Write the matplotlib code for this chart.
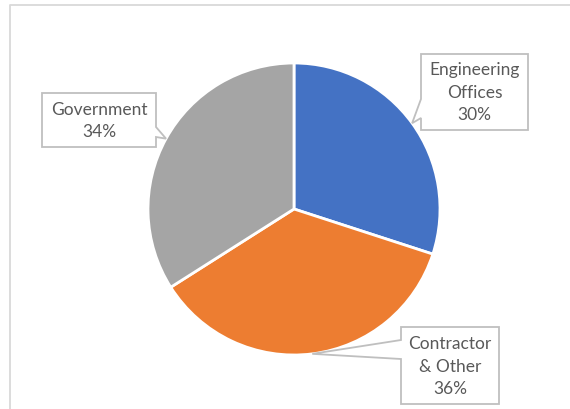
import numpy as np
import matplotlib
matplotlib.use("Agg")
import matplotlib.pyplot as plt
from matplotlib.patches import Polygon

# data
labels = ["Engineering\nOffices", "Contractor\n& Other", "Government"]
shares = [30, 36, 34]
colors = ["#4472C4", "#ED7D31", "#A5A5A5"]

W, H = 570, 409
fig = plt.figure(figsize=(W / 100, H / 100), dpi=100)
ax = fig.add_axes([0, 0, 1, 1])

# chart frame (only top and left visible in crop)
ax.plot([10, 10, W + 5], [-5, H - 5, H - 5], color="#D9D9D9", lw=1.3)

cx, cy, r = 294, H - 209, 146
wedges, _ = ax.pie(shares, colors=colors, startangle=90, counterclock=False,
                   center=(cx, cy), radius=r, frame=True,
                   wedgeprops=dict(edgecolor="white", linewidth=2.0))
ax.set_xlim(0, W)
ax.set_ylim(0, H)
ax.set_aspect("equal")
ax.axis("off")

# callout boxes: (x0, top, x1, bottom) in image pixels, side, pointer base
boxes = [
    dict(box=(421, 54, 528, 130), side="left", base=(99, 118)),
    dict(box=(401, 327, 499, 404), side="left", base=(340, 359)),
    dict(box=(42, 93, 156, 147), side="right", base=(127, 137)),
]

for w, lab, pct, b in zip(wedges, labels, shares, boxes):
    ang = np.deg2rad((w.theta1 + w.theta2) / 2)
    tx = cx + r * np.cos(ang)
    ty = cy + r * np.sin(ang)
    x0, t, x1, btm = b["box"]
    y_t, y_b = H - t, H - btm
    ba, bb = H - b["base"][0], H - b["base"][1]
    if b["side"] == "left":
        verts = [(x0, y_t), (x1, y_t), (x1, y_b), (x0, y_b),
                 (x0, bb), (tx, ty), (x0, ba)]
    else:
        verts = [(x0, y_t), (x1, y_t), (x1, ba), (tx, ty), (x1, bb),
                 (x1, y_b), (x0, y_b)]
    ax.add_patch(Polygon(verts, closed=True, facecolor="white",
                         edgecolor="#BFBFBF", lw=1.3, zorder=5))
    ax.text((x0 + x1) / 2, (y_t + y_b) / 2 - 1, f"{lab}\n{pct}%",
            ha="center", va="center", fontsize=12.5, color="#595959",
            family="Lato", linespacing=1.5, zorder=6)

fig.savefig("out.png", dpi=100)
